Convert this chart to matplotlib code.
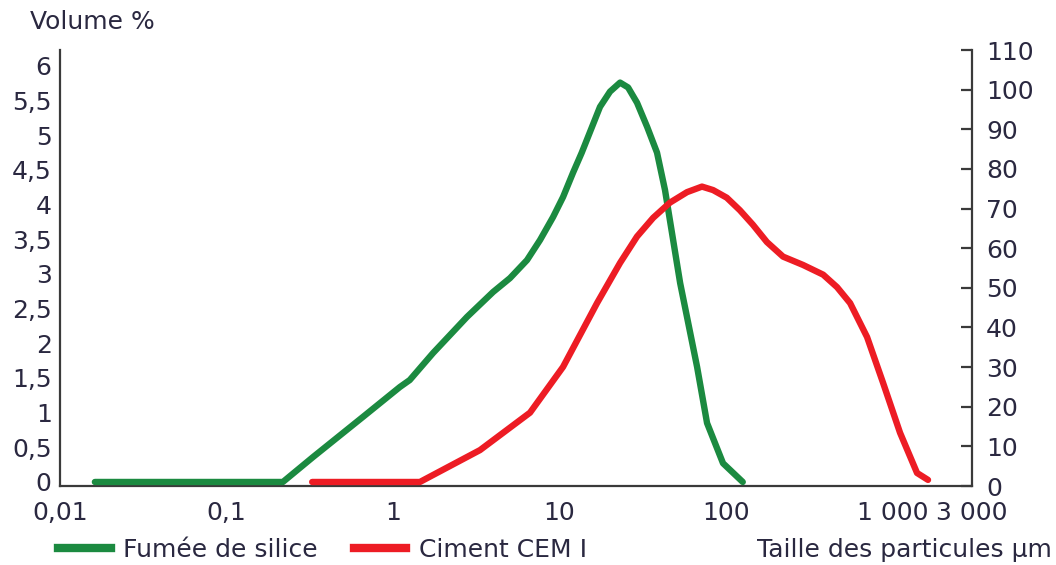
import matplotlib
matplotlib.use("Agg")
import matplotlib.pyplot as plt
from matplotlib.lines import Line2D

# ---- data ----
silice_x = [0.0162, 0.218, 0.331, 0.661, 1.10, 1.26, 1.74, 2.78, 3.99, 5.04, 6.38,
            7.64, 9.14, 10.5, 12.05, 13.6, 17.5, 20.1, 23.1, 25.8, 29.2, 33.6, 38.5,
            43.0, 53.0, 67.0, 76.9, 95.9, 126]
silice_y = [0, 0, 0.36, 0.94, 1.37, 1.47, 1.86, 2.38, 2.74, 2.94, 3.20,
            3.49, 3.82, 4.11, 4.46, 4.75, 5.41, 5.63, 5.76, 5.69, 5.47, 5.12, 4.75,
            4.21, 2.87, 1.66, 0.85, 0.27, 0]

ciment_x = [0.327, 1.45, 3.33, 6.65, 10.5, 16.8, 23.1, 29.2, 36.5, 46.1, 58.3, 71.7,
            83.6, 101, 121, 145, 176, 220, 290, 383, 464, 556, 703, 877, 1109, 1403, 1633]
ciment_y = [0, 0, 0.46, 1.00, 1.66, 2.58, 3.16, 3.54, 3.81, 4.03, 4.18, 4.26,
            4.21, 4.10, 3.92, 3.71, 3.46, 3.25, 3.13, 2.99, 2.81, 2.58, 2.09, 1.43, 0.71,
            0.13, 0.03]

x_ticks = [0.01, 0.1, 1, 10, 100, 1000, 3000]
x_ticklabels = ["0,01", "0,1", "1", "10", "100", "1 000", "3 000"]
left_ticks = [0, 0.5, 1, 1.5, 2, 2.5, 3, 3.5, 4, 4.5, 5, 5.5, 6]
left_ticklabels = ["0", "0,5", "1", "1,5", "2", "2,5", "3", "3,5", "4", "4,5", "5", "5,5", "6"]
right_ticks = [0, 10, 20, 30, 40, 50, 60, 70, 80, 90, 100, 110]

series_names = ["Fumée de silice", "Ciment CEM I"]
GREEN = "#1b8a40"
RED = "#ed1c24"
TXT = "#2a2840"
AX = "#3a3a3a"
FS = 18

plt.rcParams["font.family"] = ["DejaVu Sans"]

W, H = 1056, 565
fig = plt.figure(figsize=(W / 100, H / 100), dpi=100)
ax = fig.add_axes([60 / W, 1 - 486 / H, (972 - 60) / W, (486 - 50) / H])

ax.plot(silice_x, silice_y, color=GREEN, lw=4.6, solid_capstyle="round",
        solid_joinstyle="round", zorder=3)
ax.plot(ciment_x, ciment_y, color=RED, lw=4.6, solid_capstyle="round",
        solid_joinstyle="round", zorder=3)

ax.set_xscale("log")
ax.set_xlim(0.01, 3000)
ax.set_ylim(-0.058, 6.23)
ax.set_xticks(x_ticks)
ax.set_xticklabels(x_ticklabels)
ax.xaxis.set_minor_locator(matplotlib.ticker.NullLocator())
ax.set_yticks(left_ticks)
ax.set_yticklabels(left_ticklabels)
ax.tick_params(axis="x", length=0, pad=11, labelsize=FS, labelcolor=TXT)
ax.tick_params(axis="y", length=0, pad=6, labelsize=FS, labelcolor=TXT)
for s in ["top", "right"]:
    ax.spines[s].set_visible(False)
for s in ["left", "bottom"]:
    ax.spines[s].set_color(AX)
    ax.spines[s].set_linewidth(1.6)

ax2 = ax.twinx()
ax2.set_ylim(0, 110)
ax2.set_yticks(right_ticks)
ax2.tick_params(axis="y", direction="in", length=8, width=1.6, color=AX,
                pad=10, labelsize=FS, labelcolor=TXT)
for s in ["top", "left", "bottom"]:
    ax2.spines[s].set_visible(False)
ax2.spines["right"].set_color(AX)
ax2.spines["right"].set_linewidth(1.6)

fig.text(30 / W, 1 - 22 / H, "Volume %", fontsize=FS, color=TXT, va="center", ha="left")
fig.text(1052 / W, 1 - 550 / H, "Taille des particules µm", fontsize=FS, color=TXT,
         va="center", ha="right")

handles = [Line2D([], [], color=GREEN, lw=6), Line2D([], [], color=RED, lw=6)]
fig.legend(handles, series_names, loc="center left", bbox_to_anchor=(58 / W, 1 - 550 / H),
           ncol=2, frameon=False, fontsize=FS, labelcolor=TXT, handlelength=2.1,
           handletextpad=0.5, columnspacing=1.45, borderpad=0, borderaxespad=0)

fig.savefig("out.png", dpi=100)
